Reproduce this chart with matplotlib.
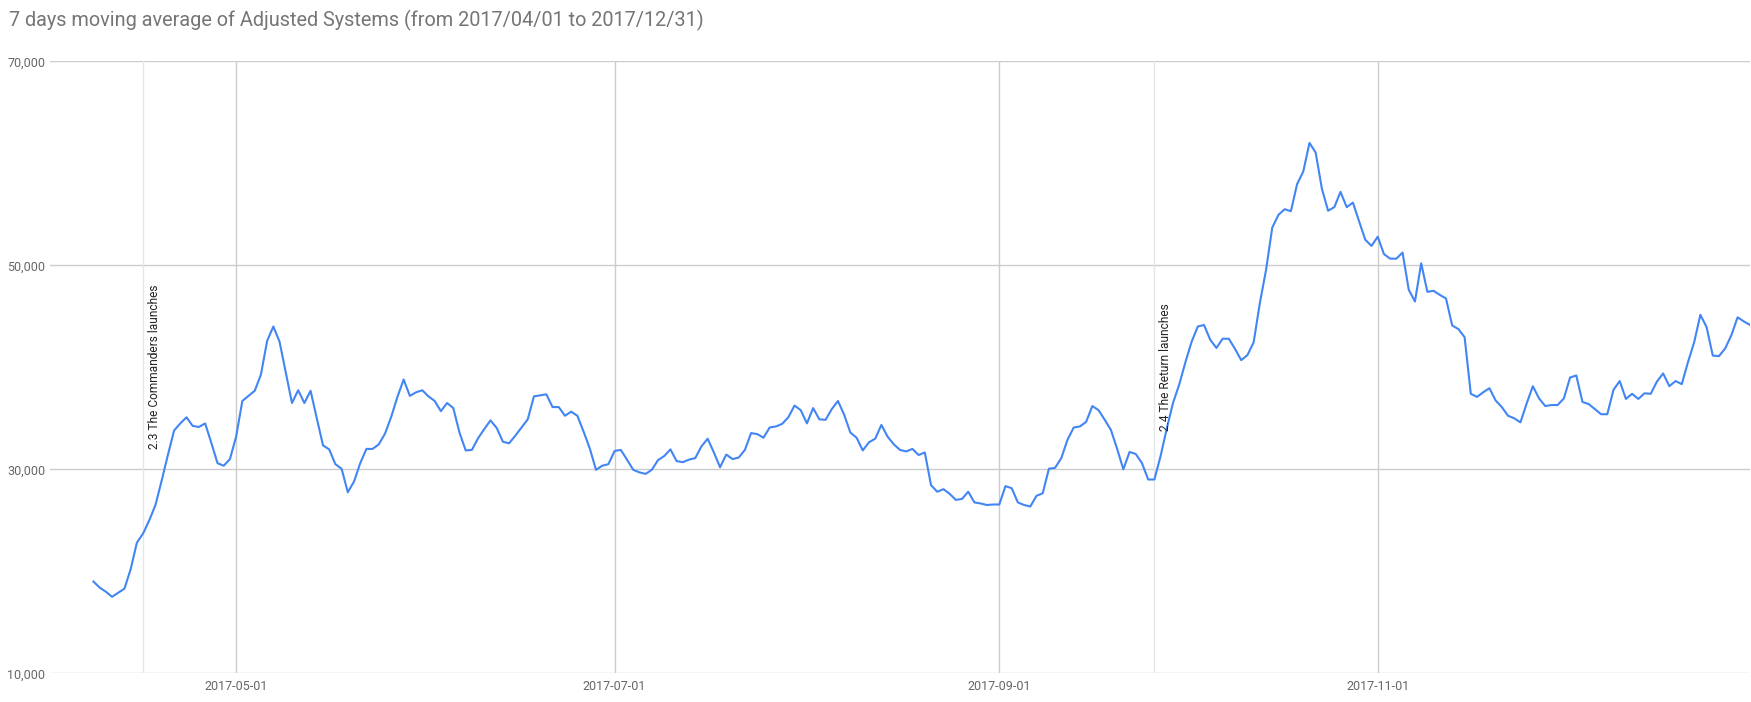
import matplotlib
matplotlib.use('Agg')
import matplotlib.pyplot as plt
import matplotlib.ticker as mticker
import matplotlib.transforms as mtransforms
import pandas as pd

plt.rcParams['font.family'] = ['Roboto', 'DejaVu Sans']

title = '7 days moving average of Adjusted Systems (from 2017/04/01 to 2017/12/31)'

# first 7-day window ends on 2017-04-08, one value per day to 2017-12-31
start_date = '2017-04-08'
values = [
    19000, 18400, 18000, 17500, 17900, 18300, 20200, 22800, 23700, 25000,
    26500, 28900, 31400, 33800, 34500, 35100, 34250, 34150, 34500, 32600,
    30600, 30350, 31000, 33200, 36700, 37200, 37700, 39300, 42600, 44000,
    42500, 39500, 36500, 37750, 36500, 37700, 35000, 32350, 31950, 30500,
    30050, 27750, 28800, 30600, 32000, 32000, 32450, 33500, 35150, 37100,
    38800, 37200, 37550, 37750, 37150, 36700, 35700, 36500, 36000, 33600,
    31850, 31900, 33050, 33950, 34800, 34050, 32700, 32550, 33300, 34100,
    34900, 37150, 37250, 37350, 36100, 36100, 35250, 35650, 35250, 33700,
    32050, 29950, 30350, 30500, 31800, 31900, 30950, 29950, 29700, 29550,
    29950, 30900, 31300, 31950, 30800, 30700, 30950, 31100, 32250, 33000,
    31650, 30200, 31450, 31000, 31150, 31900, 33550, 33450, 33100, 34100,
    34200, 34450, 35100, 36250, 35800, 34500, 36000, 34900, 34850, 35900,
    36700, 35350, 33600, 33100, 31850, 32650, 33000, 34350, 33200, 32450,
    31900, 31750, 32000, 31400, 31650, 28450, 27800, 28050, 27600, 27000,
    27100, 27800, 26750, 26650, 26500, 26550, 26550, 28350, 28150, 26750,
    26500, 26350, 27400, 27650, 30050, 30150, 31100, 32900, 34100, 34200,
    34650, 36200, 35800, 34850, 33850, 32000, 30000, 31700, 31500, 30600,
    29000, 29000, 31300, 34000, 36500, 38300, 40500, 42500, 44000, 44150,
    42700, 41900, 42800, 42800, 41800, 40700, 41200, 42450, 46300, 49550,
    53700, 54950, 55500, 55300, 57950, 59200, 62000, 61050, 57500, 55350,
    55700, 57200, 55700, 56150, 54300, 52500, 51900, 52800, 51100, 50650,
    50650, 51250, 47600, 46450, 50200, 47400, 47500, 47100, 46750, 44100,
    43750, 42950, 37400, 37100, 37550, 37950, 36750, 36100, 35250, 35000,
    34600, 36450, 38150, 36950, 36200, 36300, 36300, 36950, 39000, 39200,
    36600, 36400, 35900, 35400, 35400, 37800, 38650, 36900, 37400, 36900,
    37450, 37400, 38600, 39400, 38150, 38650, 38350, 40500, 42450, 45150,
    43950, 41150, 41100, 41850, 43150, 44900, 44500, 44150,
]

ann_dates = ['2017-04-16', '2017-09-26']
ann_labels = ['2.3 The Commanders launches', '2.4 The Return launches']
ann_label_y = [32000, 33800]

x_start, x_end = '2017-04-01', '2017-12-31'
x_ticks = ['2017-05-01', '2017-07-01', '2017-09-01', '2017-11-01']
y_ticks = [10000, 30000, 50000, 70000]

dates = pd.date_range(start_date, periods=len(values), freq='D')

W, H = 1751, 702
fig = plt.figure(figsize=(W / 100, H / 100), dpi=100)
ax = fig.add_axes([50 / W, 1 - 673.3 / H, 1700 / W, 612 / H])

ax.plot(dates, values, color='#4285F4', lw=1.5, zorder=3)

# annotation lines + rotated labels
off = mtransforms.offset_copy(ax.transData, fig=fig, x=5, y=0, units='dots')
for d, lab, yy in zip(ann_dates, ann_labels, ann_label_y):
    ax.axvline(pd.Timestamp(d), color='#e6e6e6', lw=1, zorder=1)
    ax.text(pd.Timestamp(d), yy, lab, rotation=90, ha='left', va='bottom',
            transform=off, fontsize=8.6, color='#222222', zorder=4)

ax.set_xlim(pd.Timestamp(x_start), pd.Timestamp(x_end))
ax.set_ylim(y_ticks[0], y_ticks[-1])
ax.set_yticks(y_ticks)
ax.yaxis.set_major_formatter(mticker.StrMethodFormatter('{x:,.0f}'))
ax.set_xticks(pd.to_datetime(x_ticks))
ax.set_xticklabels(x_ticks)

ax.grid(True, color='#cccccc', lw=1, zorder=0)
ax.set_axisbelow(True)
for s in ax.spines.values():
    s.set_visible(False)
ax.tick_params(length=0, labelsize=9, labelcolor='#666666')
ax.tick_params(axis='y', pad=3.4)
ax.tick_params(axis='x', pad=5)

fig.text(8.8 / W, 1 - 20 / H, title, ha='left', va='center',
         fontsize=14.3, color='#757575')

fig.savefig('out.png', dpi=100)
